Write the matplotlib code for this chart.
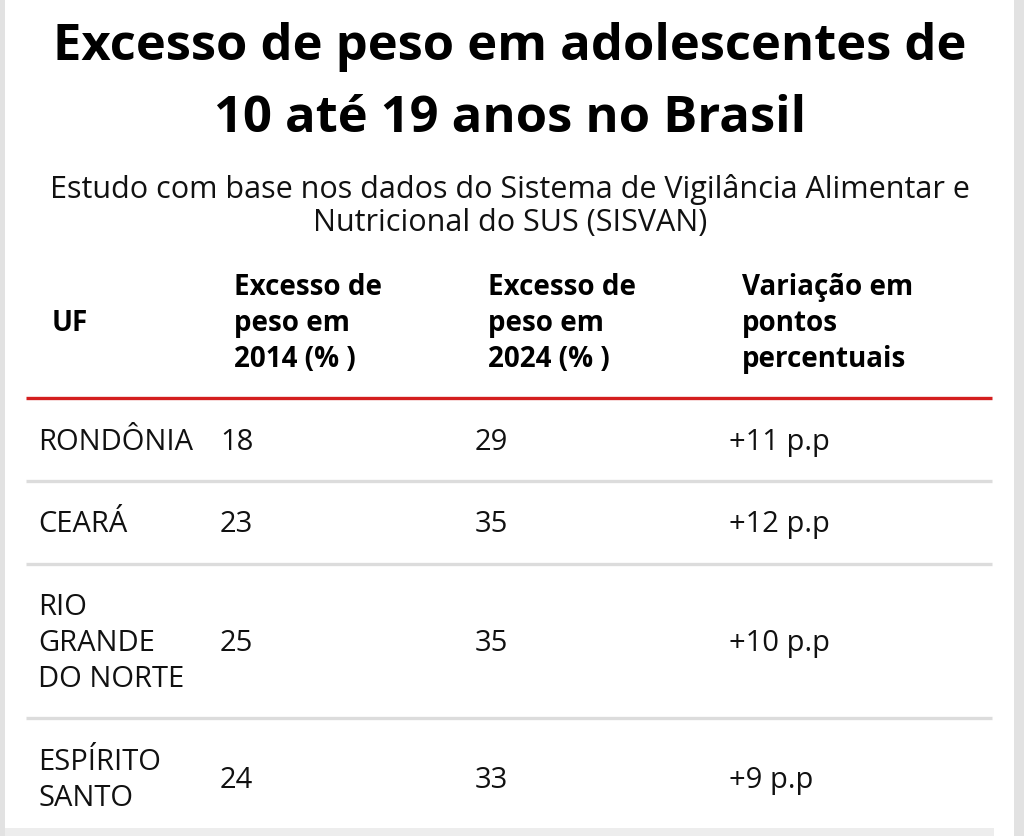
# Tabela: excesso de peso em adolescentes (SISVAN) - recriada com matplotlib
import matplotlib.pyplot as plt

# -----------------------------------------------------------------------------
# Dados da tabela
title_lines = ["Excesso de peso em adolescentes de", "10 até 19 anos no Brasil"]
subtitle_lines = ["Estudo com base nos dados do Sistema de Vigilância Alimentar e",
                  "Nutricional do SUS (SISVAN)"]
headers = ["UF",
           "Excesso de\npeso em\n2014 (% )",
           "Excesso de\npeso em\n2024 (% )",
           "Variação em\npontos\npercentuais"]
uf = ["RONDÔNIA", "CEARÁ", "RIO\nGRANDE\nDO NORTE", "ESPÍRITO\nSANTO"]
peso_2014 = [18, 23, 25, 24]
peso_2024 = [29, 35, 35, 33]
variacao = ["+11 p.p", "+12 p.p", "+10 p.p", "+9 p.p"]

# -----------------------------------------------------------------------------
# Layout (coordenadas em pixels da imagem)
W, H = 1024, 836
font = ["Open Sans", "DejaVu Sans"]
col_x = [38, 220, 475, 729]
head_x = [52, 234, 488, 742]
row_lines = [398, 481, 564, 718]
row_centers = [440, 522, 641, 778]
line_gap = 36

fig = plt.figure(figsize=(W / 100, H / 100), dpi=100)
ax = fig.add_axes([0, 0, 1, 1])
ax.set_xlim(0, W)
ax.set_ylim(H, 0)
ax.axis("off")

# bordas cinzas laterais e inferior
ax.axvspan(0, 5, color="#e2e2e2", lw=0)
ax.axvspan(1014, W, color="#e2e2e2", lw=0)
ax.fill_between([5, 994], 828, H, color="#ededed", lw=0)

# titulo e subtitulo
for i, t in enumerate(title_lines):
    ax.text(510, 60 + i * 72, t, ha="center", va="baseline", fontsize=36.5,
            fontweight="bold", family=font, color="black")
for i, t in enumerate(subtitle_lines):
    ax.text(510, 198 + i * 33, t, ha="center", va="baseline", fontsize=22,
            family=font, color="#111111")

# cabecalho
ax.text(head_x[0], 331, headers[0], ha="left", va="baseline", fontsize=20,
        fontweight="bold", family=font)
for x, h in zip(head_x[1:], headers[1:]):
    for j, part in enumerate(h.split("\n")):
        ax.text(x, 295 + j * line_gap, part, ha="left", va="baseline",
                fontsize=20, fontweight="bold", family=font)

# linhas da tabela
ax.plot([26, 992], [row_lines[0]] * 2, color="#d41f1f", lw=2.4,
        solid_capstyle="butt")
for y in row_lines[1:]:
    ax.plot([26, 992], [y, y], color="#dcdcdc", lw=2.4, solid_capstyle="butt")

# linhas de dados
for i in range(len(uf)):
    mid = row_centers[i]
    parts = uf[i].split("\n")
    first = mid - (len(parts) - 1) * line_gap / 2
    for j, part in enumerate(parts):
        ax.text(col_x[0], first + j * line_gap + 10, part, ha="left",
                va="baseline", fontsize=21, family=font, color="#111111")
    vals = [str(peso_2014[i]), str(peso_2024[i]), variacao[i]]
    for x, v in zip(col_x[1:], vals):
        ax.text(x, mid + 10, v, ha="left", va="baseline", fontsize=21,
                family=font, color="#111111")

fig.savefig("out.png", dpi=100, facecolor="white")
